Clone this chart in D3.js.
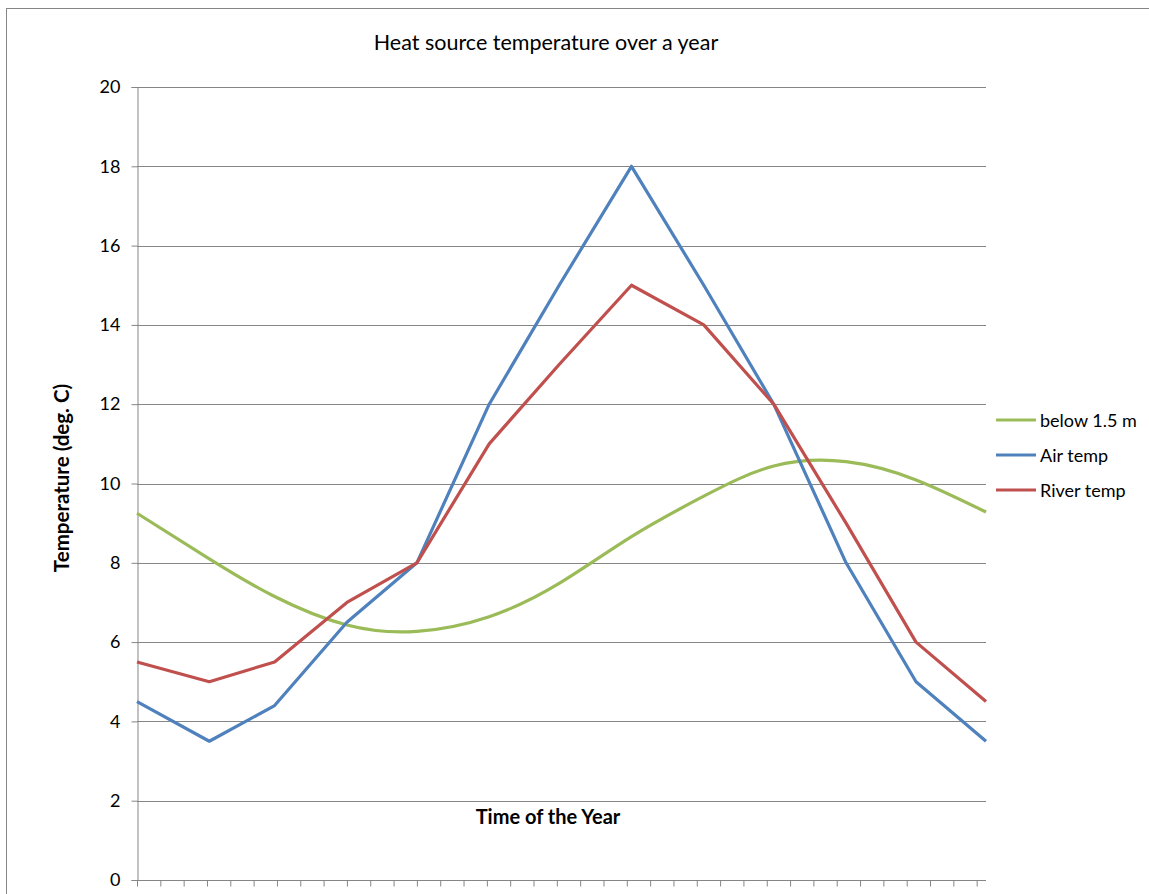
<!DOCTYPE html>
<html>
<head>
<meta charset="utf-8">
<script src="https://cdn.jsdelivr.net/npm/d3@7"></script>
<style>
  html, body { margin: 0; padding: 0; background: #fff; }
  svg { display: block; }
  text { font-family: Lato, "Open Sans", "Liberation Sans", sans-serif; fill: #000; }
</style>
</head>
<body>
<svg id="chart" width="1149" height="894"></svg>
<script>
// ---- Data (day of year at the first of each month, and Dec 31) ----
const monthDays   = [0, 31, 59, 90, 120, 151, 181, 212, 243, 273, 304, 334, 364];
const groundTemp  = [9.25, 8.1, 7.15, 6.43, 6.27, 6.64, 7.48, 8.66, 9.68, 10.44, 10.55, 10.09, 9.28];
const airTemp     = [4.5, 3.5, 4.4, 6.5, 8, 12, 15, 18, 15, 12, 8, 5, 3.5];
const riverTemp   = [5.5, 5.0, 5.5, 7.0, 8.0, 11.0, 13.0, 15.0, 14.0, 12.0, 9.0, 6.0, 4.5];
const seriesNames = ["below 1.5 m", "Air temp", "River temp"];
const yTicks      = [0, 2, 4, 6, 8, 10, 12, 14, 16, 18, 20];
const xTickDays   = d3.range(0, 361, 10);

const titleText  = "Heat source temperature over a year";
const yTitleText = "Temperature (deg. C)";
const xTitleText = "Time of the Year";

const colors = ["#9BBB59", "#4F81BD", "#C0504D"];

const series = [
  { name: seriesNames[0], values: groundTemp, color: colors[0], curve: d3.curveNatural },
  { name: seriesNames[1], values: airTemp,    color: colors[1], curve: d3.curveLinear },
  { name: seriesNames[2], values: riverTemp,  color: colors[2], curve: d3.curveLinear }
];

const svg = d3.select("#chart");

// outer chart border
svg.append("rect")
  .attr("x", 6.5).attr("y", 8.5)
  .attr("width", 1160).attr("height", 900)
  .attr("fill", "none").attr("stroke", "#868686").attr("stroke-width", 1);

const plotLeft = 137, plotRight = 986, plotTop = 87, plotBottom = 880;
const x = d3.scaleLinear().domain([0, 364]).range([plotLeft, plotRight]);
const y = d3.scaleLinear().domain([0, 20]).range([plotBottom, plotTop]);

// gridlines
svg.append("g")
  .selectAll("line")
  .data(yTicks.filter(d => d > 0))
  .join("line")
  .attr("x1", plotLeft).attr("x2", plotRight)
  .attr("y1", d => Math.round(y(d)) + 0.5).attr("y2", d => Math.round(y(d)) + 0.5)
  .attr("stroke", "#868686").attr("stroke-width", 1);

// y axis
const yAxis = svg.append("g")
  .attr("transform", `translate(${plotLeft + 0.5},0)`)
  .call(d3.axisLeft(y).tickValues(yTicks).tickSize(6).tickPadding(11).tickFormat(d3.format("d")));
yAxis.select(".domain").attr("stroke", "#868686");
yAxis.selectAll(".tick line").attr("stroke", "#868686");
yAxis.selectAll(".tick text")
  .style("font-size", "18px")
  .style("font-family", "Lato, 'Open Sans', sans-serif")
  .attr("fill", "#000");

// x axis
const xAxis = svg.append("g")
  .attr("transform", `translate(0,${plotBottom + 0.5})`)
  .call(d3.axisBottom(x).tickValues(xTickDays).tickSize(6).tickFormat(""));
xAxis.select(".domain").attr("stroke", "#868686").attr("d", `M${plotLeft},0H${plotRight}`);
xAxis.selectAll(".tick line").attr("stroke", "#868686");

// lines
series.forEach(s => {
  const line = d3.line()
    .x((d, i) => x(monthDays[i]))
    .y(d => y(d))
    .curve(s.curve);
  svg.append("path")
    .datum(s.values)
    .attr("d", line)
    .attr("fill", "none")
    .attr("stroke", s.color)
    .attr("stroke-width", 3.2)
    .attr("stroke-linejoin", "round");
});

// title
svg.append("text")
  .attr("x", 546).attr("y", 50)
  .attr("text-anchor", "middle")
  .style("font-size", "21.5px")
  .text(titleText);

// y title
svg.append("text")
  .attr("transform", `translate(69,478) rotate(-90)`)
  .attr("text-anchor", "middle")
  .style("font-size", "20.5px")
  .style("font-weight", "bold")
  .text(yTitleText);

// x title
svg.append("text")
  .attr("x", 548).attr("y", 824)
  .attr("text-anchor", "middle")
  .style("font-size", "20px")
  .style("font-weight", "bold")
  .text(xTitleText);

// legend
const legend = svg.append("g");
series.forEach((s, i) => {
  const ly = 420 + i * 35;
  legend.append("line")
    .attr("x1", 996).attr("x2", 1036)
    .attr("y1", ly).attr("y2", ly)
    .attr("stroke", s.color).attr("stroke-width", 3.2);
  legend.append("text")
    .attr("x", 1040).attr("y", ly + 6.5)
    .style("font-size", "18px")
    .text(s.name);
});
</script>
</body>
</html>
